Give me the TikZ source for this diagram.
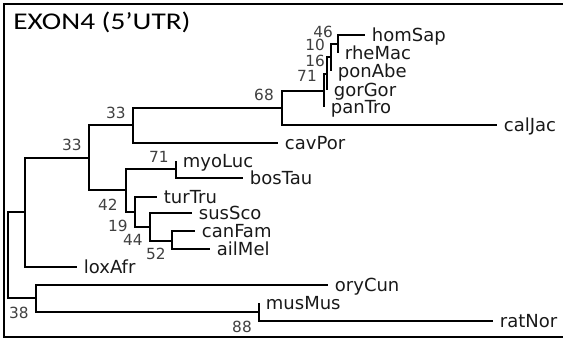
\documentclass[tikz,border=0pt]{standalone}
\usepackage{fontspec}
\usepackage{xcolor}
\setmainfont{DejaVu Sans}
\newfontfamily\titlefont[FakeStretch=1.22]{Carlito}
\definecolor{bootgray}{HTML}{404040}

\begin{document}
\begin{tikzpicture}[
  x=0.75pt, y=-0.75pt,
  branch/.style={line width=1.4pt},
  frame/.style={line width=1.5pt},
  leaf/.style={anchor=west, inner xsep=5pt, inner ysep=0pt,
               text height=9.8pt, text depth=0pt,
               font=\fontsize{13.5}{16}\selectfont, text=black!90},
  boot/.style={inner sep=0pt, font=\fontsize{11.5}{13}\selectfont, text=bootgray}
]
\useasboundingbox (0,0) rectangle (563,342);
\draw[frame] (570,4) -| (4,337) -- (570,337);

\node[anchor=base west, inner sep=0pt, font=\titlefont\fontsize{18}{21}\selectfont]
  (title) at (13,30) {EXON4 (5’UTR)};

% internal nodes
\coordinate (root) at (8,255);
\coordinate (nA)   at (25,212);
\coordinate (nB)   at (89,158);
\coordinate (nC)   at (133,125);
\coordinate (nD)   at (282,108);
\coordinate (n71)  at (324,91);
\coordinate (n16)  at (327,74);
\coordinate (n10)  at (331,57);
\coordinate (n46)  at (338,44);
\coordinate (nE)   at (126,190);
\coordinate (nBat) at (176,169);
\coordinate (n19)  at (135,212);
\coordinate (n44)  at (150,227);
\coordinate (n52)  at (172,241);
\coordinate (nG)   at (36,298);
\coordinate (n88)  at (259,312);

% leaves
\node[leaf] (homSap) at (365,35)  {homSap};
\node[leaf] (rheMac) at (338,53)  {rheMac};
\node[leaf] (ponAbe) at (331,71)  {ponAbe};
\node[leaf] (gorGor) at (327,90)  {gorGor};
\node[leaf] (panTro) at (324,107) {panTro};
\node[leaf] (calJac) at (497,125) {calJac};
\node[leaf] (cavPor) at (278,143) {cavPor};
\node[leaf] (myoLuc) at (176,161) {myoLuc};
\node[leaf] (bosTau) at (243,178) {bosTau};
\node[leaf] (turTru) at (157,197) {turTru};
\node[leaf] (susSco) at (192,213) {susSco};
\node[leaf] (canFam) at (195,231) {canFam};
\node[leaf] (ailMel) at (210,249) {ailMel};
\node[leaf] (loxAfr) at (77,267)  {loxAfr};
\node[leaf] (oryCun) at (328,285) {oryCun};
\node[leaf] (musMus) at (259,303) {musMus};
\node[leaf] (ratNor) at (493,321) {ratNor};

\foreach \p/\c in {root/nA, root/nG, nA/nB, nA/loxAfr, nB/nC, nB/nE,
    nC/nD, nC/cavPor, nD/n71, nD/calJac, n71/n16, n71/panTro,
    n16/n10, n16/gorGor, n10/n46, n10/ponAbe, n46/homSap, n46/rheMac,
    nE/nBat, nE/n19, nBat/myoLuc, nBat/bosTau, n19/turTru, n19/n44,
    n44/susSco, n44/n52, n52/canFam, n52/ailMel,
    nG/oryCun, nG/n88, n88/musMus, n88/ratNor}
  \draw[branch] (\p) |- (\c);

% bootstrap values
\node[boot] (b33a) at (72,145)  {33};
\node[boot] (b33b) at (116,113) {33};
\node[boot] (b68)  at (264,95)  {68};
\node[boot] (b71a) at (307,76)  {71};
\node[boot] (b16)  at (315,61)  {16};
\node[boot] (b10)  at (315,45)  {10};
\node[boot] (b46)  at (323,32)  {46};
\node[boot] (b71b) at (159,157) {71};
\node[boot] (b42)  at (108,205) {42};
\node[boot] (b19)  at (118,226) {19};
\node[boot] (b44)  at (133,240) {44};
\node[boot] (b52)  at (156,254) {52};
\node[boot] (b38)  at (19,313)  {38};
\node[boot] (b88)  at (242,327) {88};
\end{tikzpicture}
\end{document}
